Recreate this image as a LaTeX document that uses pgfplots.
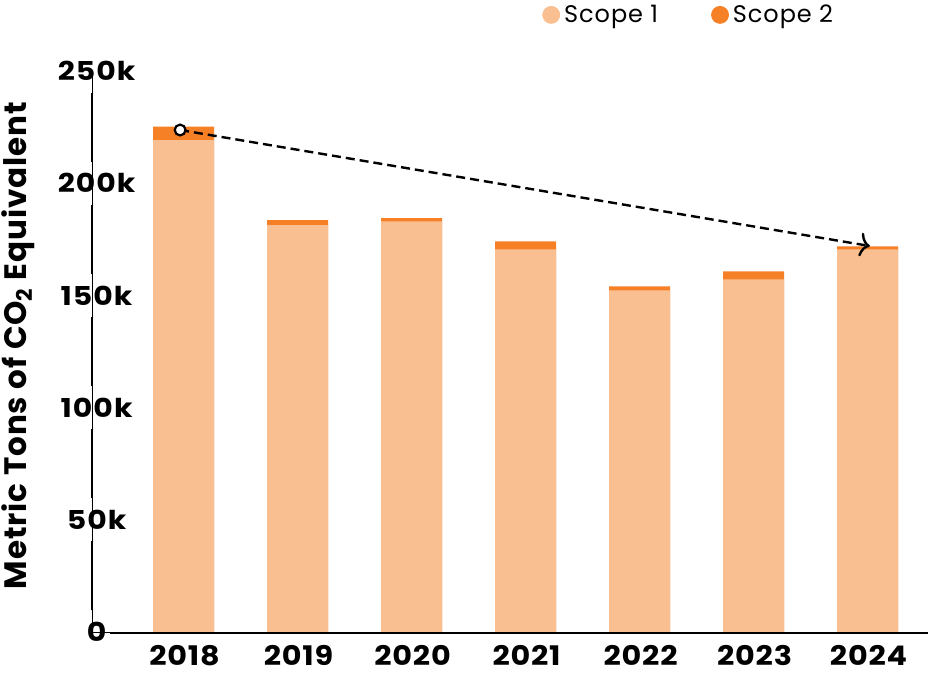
\documentclass[border=0pt]{standalone}
\usepackage{pgfplots}
\pgfplotsset{compat=1.18}
\usepackage{fontspec}
\setmainfont{Poppins}
\newfontfamily\tickfont[FakeStretch=1.15, LetterSpace=4]{Poppins}
\newfontfamily\xtickfont[FakeStretch=1.12, LetterSpace=3]{Poppins}
\newfontfamily\labelfont[LetterSpace=3]{Poppins}
\newfontfamily\legendfont[LetterSpace=4]{Poppins}
\usetikzlibrary{arrows.meta}

\definecolor{scopeone}{HTML}{FABF91}
\definecolor{scopetwo}{HTML}{F58025}

% totals (scope 1 + scope 2) and scope 1, thousands of t CO2e
\pgfplotstableread{
x total scope1
0 225.2 219.2
1 183.5 181.3
2 184.4 183.0
3 174.1 170.5
4 154.0 152.2
5 160.7 157.1
6 171.8 170.5
}\emissions

\begin{document}
\begin{tikzpicture}
\useasboundingbox (-46pt,-20.5pt) rectangle (418pt,316pt);
\begin{axis}[
    scale only axis,
    width=418pt, height=280.5pt,
    xmin=-0.803, xmax=6.53,
    ymin=0, ymax=250,
    clip=false,
    axis lines=none,
    xtick={0,...,6},
    xticklabels={2018,2019,2020,2021,2022,2023,2024},
    ytick={0,50,100,150,200,250},
    yticklabels={0,50k,100k,150k,200k,250k},
    tick style={draw=none},
    xticklabel style={font=\xtickfont\fontsize{13.5}{14}\selectfont\bfseries, yshift=-3pt, xshift=0.5pt},
    yticklabel style={font=\tickfont\fontsize{13}{14}\selectfont\bfseries, anchor=center, xshift=2.3pt, inner xsep=2.5pt},
    hide x axis=false, hide y axis=false,
    ylabel={Metric Tons of CO\textsubscript{2} Equivalent},
    every axis y label/.style={at={(rel axis cs:0,0.5)}, xshift=-37pt, yshift=3pt, rotate=90, anchor=center, font=\labelfont\fontsize{15.5}{16}\selectfont\bfseries},
    legend style={at={(rel axis cs:0.531,1.1)}, anchor=west, draw=none, fill=none,
        font=\legendfont\fontsize{12}{13}\selectfont, legend columns=2,
        /tikz/every even column/.append style={column sep=24.5pt}},
    legend cell align=left,
]
% y axis line, broken at the tick labels
\draw[black, line width=1pt] (axis cs:-0.803,9.6) -- (axis cs:-0.803,40.4);
\draw[black, line width=1pt] (axis cs:-0.803,59.6) -- (axis cs:-0.803,90.4);
\draw[black, line width=1pt] (axis cs:-0.803,109.6) -- (axis cs:-0.803,140.4);
\draw[black, line width=1pt] (axis cs:-0.803,159.6) -- (axis cs:-0.803,190.4);
\draw[black, line width=1pt] (axis cs:-0.803,209.6) -- (axis cs:-0.803,240.4);
\addplot[ybar, bar width=30.5pt, bar shift=0pt, fill=scopetwo, draw=none, forget plot] table[x=x, y=total] {\emissions};
\addplot[ybar, bar width=30.5pt, bar shift=0pt, fill=scopeone, draw=none, forget plot] table[x=x, y=scope1] {\emissions};
\draw[black, line width=1pt] (axis cs:-0.645,-0.6) -- (axis cs:6.53,-0.6);
% trend arrow 2018 -> 2024
\addplot[black, line width=1.2pt, dash pattern=on 4.5pt off 2.5pt,
    -{To[length=5pt, width=12pt, line width=1.2pt]},
    mark=*, mark indices={1}, mark size=2.7pt,
    mark options={solid, fill=white, line width=1.1pt}, forget plot]
    coordinates {(-0.03,223.7) (6.02,172.0)};
\addlegendimage{legend image code/.code={\fill[scopeone] (0cm,0cm) circle (4.25pt);}}
\addlegendentry{Scope 1}
\addlegendimage{legend image code/.code={\fill[scopetwo] (0cm,0cm) circle (4.25pt);}}
\addlegendentry{Scope 2}
\end{axis}
\end{tikzpicture}
\end{document}
